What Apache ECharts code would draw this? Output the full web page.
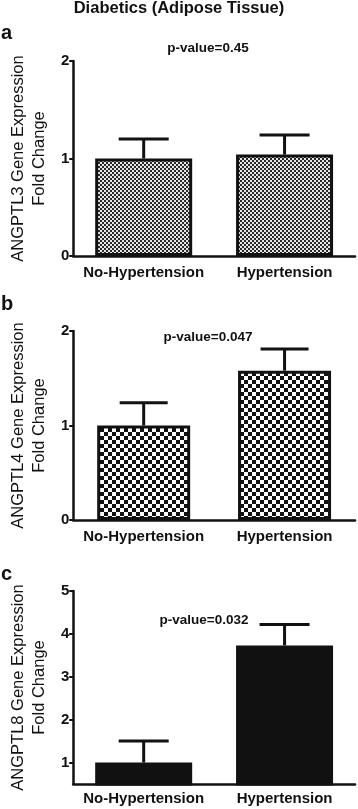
<!DOCTYPE html>
<html>
<head>
<meta charset="utf-8">
<script src="https://cdn.jsdelivr.net/npm/echarts@6/dist/echarts.min.js"></script>
<style>
html,body{margin:0;padding:0;background:#fff;}
#chart{width:358px;height:809px;}
</style>
</head>
<body>
<div id="chart"></div>
<script>
// ---- data ----
const categories = ['No-Hypertension', 'Hypertension'];
const angptl3Mean = [1.00, 1.04];
const angptl3Upper = [1.20, 1.24];
const angptl4Mean = [1.00, 1.58];
const angptl4Upper = [1.24, 1.81];
const angptl8Mean = [1.00, 3.73];
const angptl8Upper = [1.50, 4.22];
const pValues = ['p-value=0.45', 'p-value=0.047', 'p-value=0.032'];
const yTicksA = [0, 1, 2];
const yTicksB = [0, 1, 2];
const yTicksC = [1, 2, 3, 4, 5];
const yNames = ['ANGPTL3 Gene Expression\nFold Change', 'ANGPTL4 Gene Expression\nFold Change', 'ANGPTL8 Gene Expression\nFold Change'];
const panelLetters = ['a', 'b', 'c'];
const mainTitle = 'Diabetics (Adipose Tissue)';

// ---- patterns ----
function checker(cell, dark, light) {
  const c = document.createElement('canvas');
  c.width = cell * 2; c.height = cell * 2;
  const g = c.getContext('2d');
  g.fillStyle = light; g.fillRect(0, 0, cell * 2, cell * 2);
  g.fillStyle = dark;
  g.fillRect(0, 0, cell, cell);
  g.fillRect(cell, cell, cell, cell);
  return c;
}
const patA = { image: checker(2, '#2a2a2a', '#e6e6e6'), repeat: 'repeat' };
const patB = { image: checker(4, '#111111', '#ffffff'), repeat: 'repeat' };

const FONT = '"Liberation Sans", Arial, sans-serif';
const INK = '#111';

const grids = [
  { left: 62, right: 3, top: 61, bottom: 553 },
  { left: 65, right: 3, top: 331, bottom: 289 },
  { left: 68, right: 3, top: 591, bottom: 25 }
];

function xAxisFor(i, margin) {
  return {
    type: 'category', gridIndex: i, data: categories,
    axisLine: { lineStyle: { color: INK, width: 2.5 } },
    axisTick: { alignWithLabel: true, length: 5, interval: 0, lineStyle: { color: INK, width: 2 } },
    axisLabel: { interval: 0, hideOverlap: false, color: INK, fontFamily: FONT, fontWeight: 'bold', fontSize: 15, margin: margin }
  };
}
function yAxisFor(i, min, max, ticks, name) {
  return {
    type: 'value', gridIndex: i, min: min, max: max,
    name: name, nameLocation: 'middle', nameGap: 19,
    nameTextStyle: { color: INK, fontFamily: FONT, fontSize: 16.5, lineHeight: 21 },
    splitLine: { show: false },
    axisLine: { show: true, lineStyle: { color: INK, width: 2.5 } },
    axisTick: { show: true, length: 4, lineStyle: { color: INK, width: 2 }, customValues: ticks },
    axisLabel: { color: INK, fontFamily: FONT, fontWeight: 'bold', fontSize: 15, margin: 4, customValues: ticks }
  };
}

function errSeries(i, means, uppers, half) {
  return {
    type: 'custom', xAxisIndex: i, yAxisIndex: i, z: 5,
    data: means.map((m, k) => [k, m, uppers[k]]),
    renderItem: function (params, api) {
      const base = api.coord([api.value(0), api.value(1)]);
      const top = api.coord([api.value(0), api.value(2)]);
      const st = { stroke: INK, lineWidth: 3 };
      return {
        type: 'group', children: [
          { type: 'line', shape: { x1: base[0], y1: base[1], x2: base[0], y2: top[1] }, style: st },
          { type: 'line', shape: { x1: base[0] - half, y1: top[1], x2: base[0] + half, y2: top[1] }, style: st }
        ]
      };
    }
  };
}

function barSeries(i, means, color, width) {
  return {
    type: 'bar', xAxisIndex: i, yAxisIndex: i, data: means, barWidth: width,
    itemStyle: { color: color, borderColor: INK, borderWidth: 3 },
    emphasis: { disabled: true }
  };
}

const option = {
  animation: false,
  grid: grids,
  xAxis: [xAxisFor(0, 9), xAxisFor(1, 9), xAxisFor(2, 7)],
  yAxis: [
    yAxisFor(0, 0, 2, yTicksA, yNames[0]),
    yAxisFor(1, 0, 2, yTicksB, yNames[1]),
    yAxisFor(2, 0.5, 5, yTicksC, yNames[2])
  ],
  series: [
    barSeries(0, angptl3Mean, patA, 97),
    errSeries(0, angptl3Mean, angptl3Upper, 25),
    barSeries(1, angptl4Mean, patB, 93),
    errSeries(1, angptl4Mean, angptl4Upper, 24),
    barSeries(2, angptl8Mean, '#111', 97),
    errSeries(2, angptl8Mean, angptl8Upper, 25)
  ],
  graphic: [
    { type: 'text', left: 'center', top: 0, style: { text: mainTitle, fill: INK, font: 'bold 16.5px ' + FONT } },
    { type: 'text', x: 1, y: 23, style: { text: panelLetters[0], fill: INK, font: 'bold 20px ' + FONT } },
    { type: 'text', x: 1, y: 294, style: { text: panelLetters[1], fill: INK, font: 'bold 20px ' + FONT } },
    { type: 'text', x: 1, y: 564, style: { text: panelLetters[2], fill: INK, font: 'bold 20px ' + FONT } },
    { type: 'text', x: 208, y: 48, style: { text: pValues[0], fill: INK, font: 'bold 13.5px ' + FONT, align: 'center', verticalAlign: 'middle' } },
    { type: 'text', x: 208, y: 337, style: { text: pValues[1], fill: INK, font: 'bold 13.5px ' + FONT, align: 'center', verticalAlign: 'middle' } },
    { type: 'text', x: 204, y: 620, style: { text: pValues[2], fill: INK, font: 'bold 13.5px ' + FONT, align: 'center', verticalAlign: 'middle' } }
  ]
};

const chart = echarts.init(document.getElementById('chart'), null, { renderer: 'canvas' });
chart.setOption(option);
</script>
</body>
</html>
